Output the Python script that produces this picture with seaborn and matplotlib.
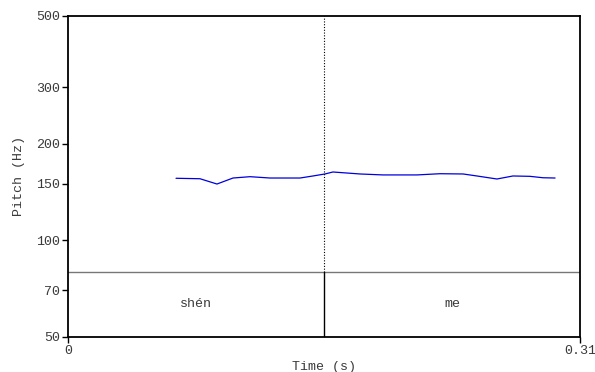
import matplotlib
matplotlib.use("Agg")
import matplotlib.pyplot as plt
import seaborn as sns
import pandas as pd
import numpy as np

# Pitch track (s, Hz)
times = [0.0654, 0.0799, 0.0902, 0.0999, 0.1102, 0.1223, 0.1405, 0.1483, 0.1556,
         0.1604, 0.1768, 0.1907, 0.2113, 0.2252, 0.2392, 0.2476, 0.2597, 0.2694,
         0.2797, 0.2876, 0.2949]
pitch = [156.1, 155.6, 149.8, 156.4, 157.9, 156.4, 156.4, 158.7, 161.0,
         163.3, 161.0, 159.9, 159.9, 161.3, 161.0, 158.7, 155.3, 158.7,
         158.3, 156.7, 156.4]

# Syllable tier
syllables = ["shén", "me"]
boundaries = [0.0, 0.155, 0.31]

y_ticks = [50, 70, 100, 150, 200, 300, 500]
t_min, t_max = 0.0, 0.31
f_min, f_max = 50, 500

sns.set_style("white")
plt.rcParams["font.family"] = ["Liberation Mono", "DejaVu Sans Mono"]

FS = 9.6
TXT = "#3a3a3a"

fig = plt.figure(figsize=(5.95, 3.72), dpi=100)
ax = fig.add_axes([0.1143, 0.0941, 0.8605, 0.8629])

df = pd.DataFrame({"t": times, "f0": pitch})
sns.lineplot(data=df, x="t", y="f0", ax=ax, color="#0000dd", linewidth=0.9)

ax.set_yscale("log")
ax.set_xlim(t_min, t_max)
ax.set_ylim(f_min, f_max)
ax.set_yticks(y_ticks)
ax.set_yticklabels([str(v) for v in y_ticks])
ax.yaxis.set_minor_locator(matplotlib.ticker.NullLocator())
ax.set_xticks([t_min, t_max])
ax.set_xticklabels(["0", "0.31"])

ax.tick_params(axis="both", direction="out", length=4, width=1, color="black",
               labelsize=FS, labelcolor=TXT, pad=1.5, left=True, bottom=True)

for s in ax.spines.values():
    s.set_color("black")
    s.set_linewidth(1.3)

ax.set_xlabel("Time (s)", fontsize=FS, color=TXT, labelpad=3)
ax.set_ylabel("Pitch (Hz)", fontsize=FS, color=TXT, labelpad=8)

# Tier area in axes-fraction height
tier_top = 0.2025
ax.axhline(y=f_min * (f_max / f_min) ** tier_top, color="#777777", linewidth=1.0)
tr = ax.get_xaxis_transform()
for b in boundaries[1:-1]:
    ax.plot([b, b], [0, tier_top], transform=tr, color="black", linewidth=1.0)
    ax.plot([b, b], [tier_top, 1], transform=tr, color="black", linewidth=0.8,
            linestyle=(0, (1, 1.5)))
for lab, a, b in zip(syllables, boundaries[:-1], boundaries[1:]):
    ax.text((a + b) / 2, tier_top / 2, lab, transform=tr, ha="center", va="center",
            fontsize=FS, color=TXT)

fig.savefig("out.png", dpi=100)
